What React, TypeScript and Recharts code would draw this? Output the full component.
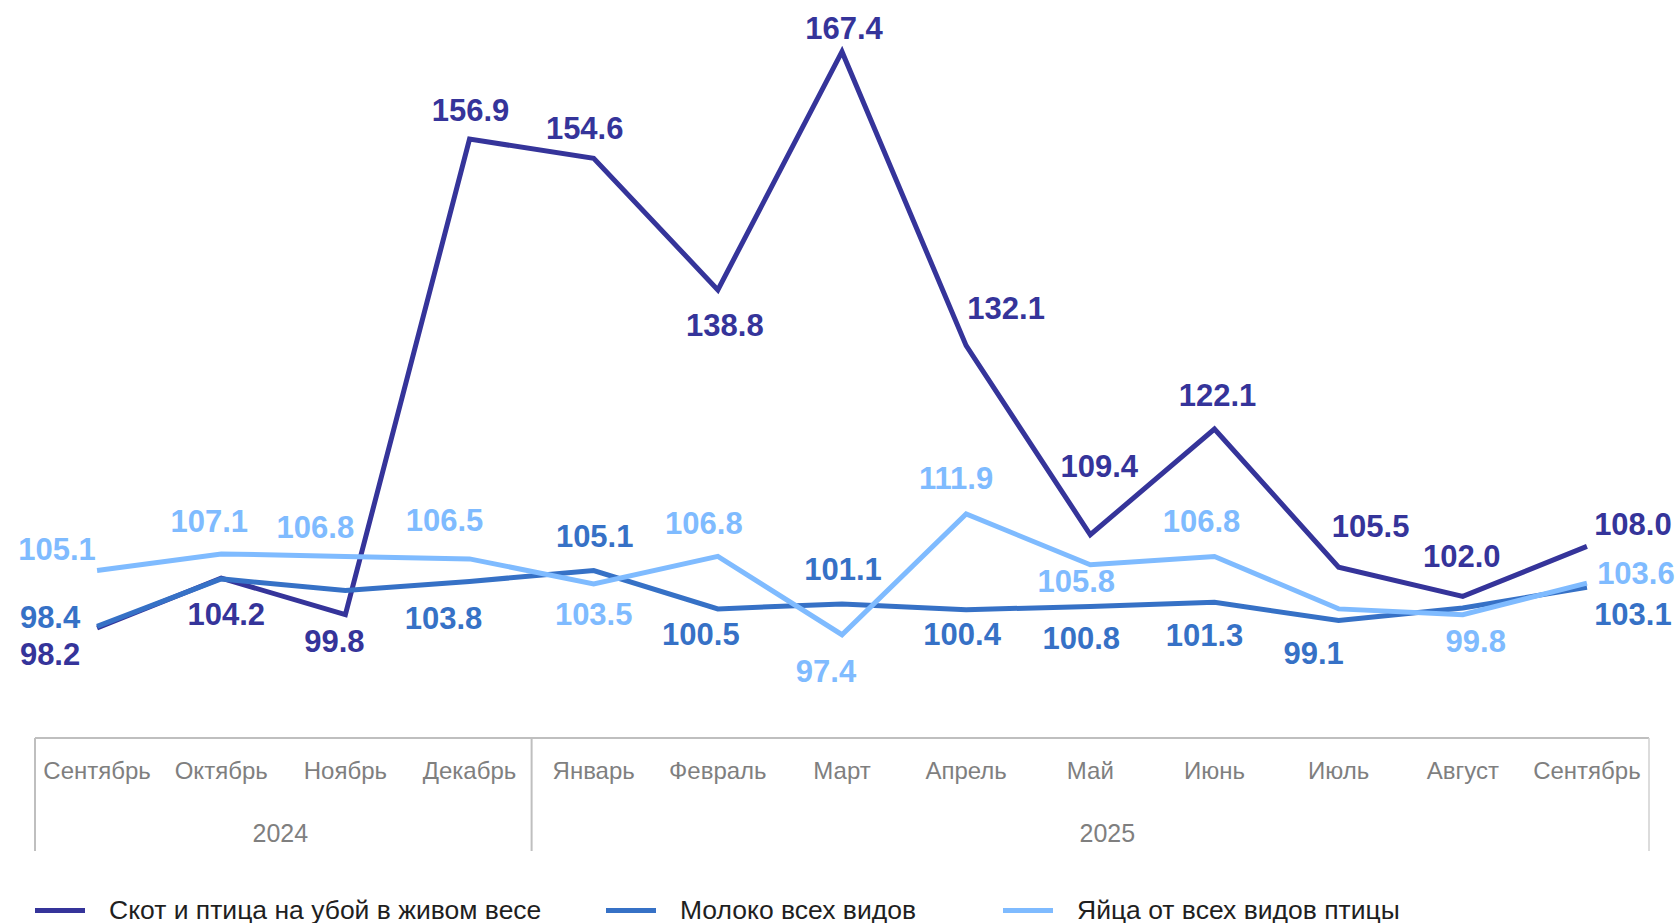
import React from 'react';
import { LineChart, Line, XAxis, YAxis, LabelList } from 'recharts';

const months = [
  'Сентябрь', 'Октябрь', 'Ноябрь', 'Декабрь', 'Январь', 'Февраль', 'Март',
  'Апрель', 'Май', 'Июнь', 'Июль', 'Август', 'Сентябрь',
];
const years = [
  { label: '2024', from: 0, to: 3 },
  { label: '2025', from: 4, to: 12 },
];

const livestock = [98.2, 104.2, 99.8, 156.9, 154.6, 138.8, 167.4, 132.1, 109.4, 122.1, 105.5, 102.0, 108.0];
const milk = [98.4, 104.1, 102.7, 103.8, 105.1, 100.5, 101.1, 100.4, 100.8, 101.3, 99.1, 100.6, 103.1];
const eggs = [105.1, 107.1, 106.8, 106.5, 103.5, 106.8, 97.4, 111.9, 105.8, 106.8, 100.5, 99.8, 103.6];

// which points show a value label (Excel hid a few that overlapped)
const milkShown = [1, 0, 0, 1, 1, 1, 1, 1, 1, 1, 1, 0, 1];
const eggsShown = [1, 1, 1, 1, 1, 1, 1, 1, 1, 1, 0, 1, 1];

// label offsets from the point, [dx, dy]
const livestockOffsets = [
  [-47, 26], [5, 36], [-11, 27], [1, -29], [-9, -30], [7, 36], [2, -23],
  [40, -37], [9, -68], [3, -33], [32, -41], [-1, -40], [46, -22],
];
const milkOffsets = [
  [-47, -9], [0, 0], [0, 0], [-26, 37], [1, -34], [-17, 26], [1, -34],
  [-4, 25], [-9, 32], [-10, 33], [-25, 33], [0, 0], [46, 27],
];
const eggsOffsets = [
  [-40, -21], [-12, -32], [-30, -29], [-25, -38], [0, 31], [-14, -33], [-16, 37],
  [-10, -35], [-14, 17], [-13, -35], [0, 0], [13, 27], [49, -10],
];

const COLORS = { livestock: '#35349a', milk: '#3671c6', eggs: '#7fbbff' };
const FONT = '"Liberation Sans", Arial, sans-serif';

const data = months.map((m, i) => ({
  month: m,
  idx: i,
  livestock: livestock[i],
  milk: milk[i],
  eggs: eggs[i],
}));

const W = 1678;
const H = 923;
const MARGIN = { top: 30, right: 29, left: 35, bottom: 0 };
const BAND = (W - MARGIN.left - MARGIN.right) / months.length;
const AXIS_Y = 738;

const makeLabel = (color: string, offsets: number[][], shown?: number[]) => (props: any) => {
  const { x, y, value, index } = props;
  if (shown && !shown[index]) return null;
  const [dx, dy] = offsets[index];
  return (
    <text
      x={x + dx}
      y={y + dy}
      textAnchor="middle"
      dominantBaseline="central"
      fill={color}
      fontFamily={FONT}
      fontWeight="bold"
      fontSize={31}
    >
      {Number(value).toFixed(1)}
    </text>
  );
};

const MonthTick = (props: any) => {
  const { x, y, payload, index } = props;
  const i = payload?.index ?? index;
  const left = x - BAND / 2;
  const year = years.find((yr) => yr.from === i);
  return (
    <g>
      <text
        x={x}
        y={y + 24}
        textAnchor="middle"
        dominantBaseline="central"
        fill="#7f7f7f"
        fontFamily={FONT}
        fontSize={24}
      >
        {payload.value}
      </text>
      {year && (
        <line x1={left} x2={left} y1={AXIS_Y} y2={AXIS_Y + 113} stroke="#bfbfbf" strokeWidth={2} />
      )}
      {year && (
        <text
          x={left + ((year.to - year.from + 1) * BAND) / 2 + (year.from > 0 ? 17 : -3)}
          y={y + 87}
          textAnchor="middle"
          dominantBaseline="central"
          fill="#7f7f7f"
          fontFamily={FONT}
          fontSize={25}
        >
          {year.label}
        </text>
      )}
      {i === months.length - 1 && (
        <line
          x1={x + BAND / 2}
          x2={x + BAND / 2}
          y1={AXIS_Y}
          y2={AXIS_Y + 113}
          stroke="#d0d0d0"
          strokeWidth={1.5}
        />
      )}
    </g>
  );
};

const legendItems = [
  { name: 'Скот и птица на убой в живом весе', color: COLORS.livestock, x: 35 },
  { name: 'Молоко всех видов', color: COLORS.milk, x: 606 },
  { name: 'Яйца от всех видов птицы', color: COLORS.eggs, x: 1003 },
];

export default function App() {
  return (
    <div style={{ position: 'absolute', left: 0, top: 0, width: W, height: H, background: '#fff', overflow: 'hidden' }}>
      <LineChart width={W} height={H} data={data} margin={MARGIN}>
        <XAxis
          dataKey="month"
          interval={0}
          tickLine={false}
          padding={{ left: BAND / 2, right: BAND / 2 }}
          axisLine={{ stroke: '#bfbfbf', strokeWidth: 2 }}
          height={H - AXIS_Y}
          tick={<MonthTick />}
        />
        <YAxis hide domain={[85, 170]} />
        <Line
          dataKey="livestock"
          stroke={COLORS.livestock}
          strokeWidth={5}
          dot={false}
          isAnimationActive={false}
        >
          <LabelList dataKey="livestock" content={makeLabel(COLORS.livestock, livestockOffsets)} />
        </Line>
        <Line
          dataKey="milk"
          stroke={COLORS.milk}
          strokeWidth={5}
          dot={false}
          isAnimationActive={false}
        >
          <LabelList dataKey="milk" content={makeLabel(COLORS.milk, milkOffsets, milkShown)} />
        </Line>
        <Line
          dataKey="eggs"
          stroke={COLORS.eggs}
          strokeWidth={5}
          dot={false}
          isAnimationActive={false}
        >
          <LabelList dataKey="eggs" content={makeLabel(COLORS.eggs, eggsOffsets, eggsShown)} />
        </Line>
      </LineChart>
      {legendItems.map((it) => (
        <div
          key={it.name}
          style={{
            position: 'absolute',
            left: it.x,
            top: 895,
            display: 'flex',
            alignItems: 'center',
            fontFamily: FONT,
            fontSize: 26.5,
            color: '#1f1f1f',
            whiteSpace: 'nowrap',
          }}
        >
          <span style={{ display: 'inline-block', width: 50, height: 5, background: it.color, marginRight: 24 }} />
          <span>{it.name}</span>
        </div>
      ))}
    </div>
  );
}
